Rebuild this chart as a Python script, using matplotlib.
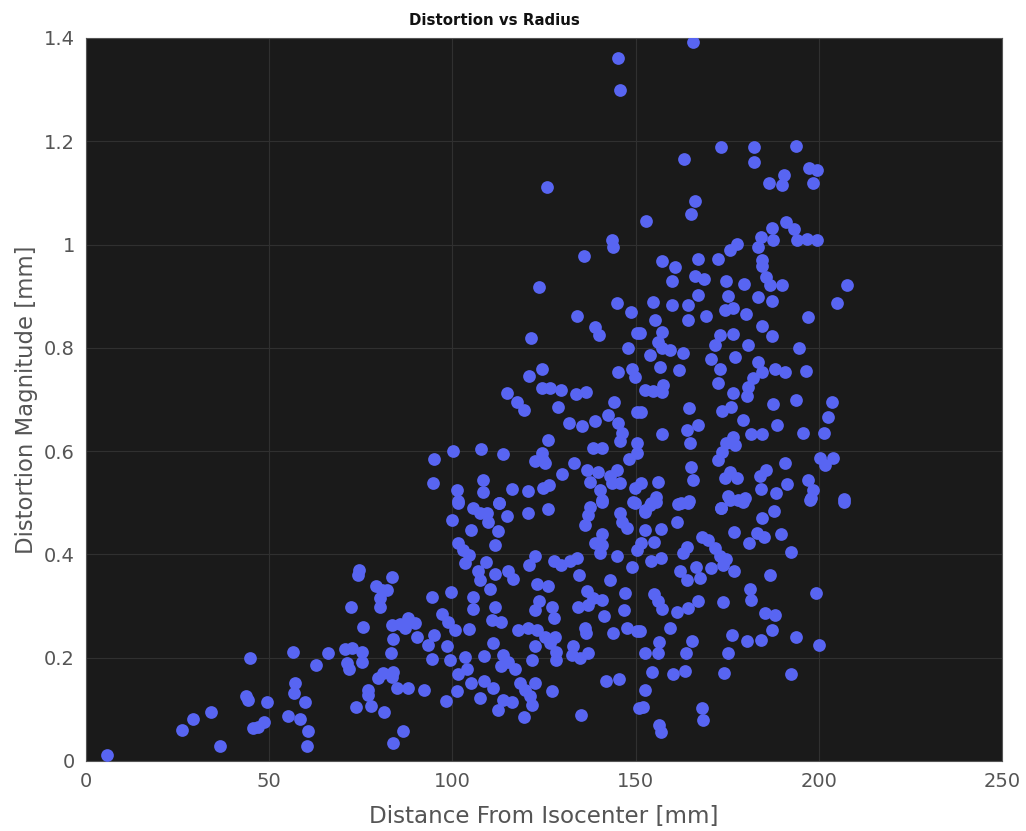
"""
Distortion magnitude against distance from isocenter, read off the reference scatter.
"""

import matplotlib
matplotlib.use("Agg")
import matplotlib.pyplot as plt

# values grouped roughly by region of the plot: (distance mm, distortion mm)
low_radius = [
    (5.6,.011),(26.1,.06),(29.3,.081),(34.1,.094),(36.6,.029),(44.8,.199),(43.6,.125),(44.2,.118),
    (49.3,.114),(45.6,.064),(47,.066),(48.6,.076),(56.6,.212),(57,.151),(56.8,.132),(59.8,.114),
    (55,.087),(58.4,.082),(60.6,.058),(60.2,.029),(62.7,.185),(66,.209),(70.7,.217),(72.5,.219),
    (75.2,.212),(71.1,.19),(71.8,.178),(75.3,.192),(74.2,.36),(74.5,.37),(72.3,.299),(75.6,.259),
    (73.6,.104),(77.8,.107),(76.9,.137),(77,.128),(81.3,.094),(86.5,.058),(83.8,.035),(79.6,.161),
    (81.1,.171),(83.8,.173),(83.4,.163),(84.8,.142),(87.9,.142),(83.2,.209),(83.8,.236),(83.4,.263),
    (85.7,.265),(87.9,.277),(87,.258),(89.8,.267),(90.3,.24),(83.4,.356),(79.1,.338),(80.7,.331),
    (82.1,.331),(80.2,.316),(80.2,.299),
]
mid_lower = [
    (101.4,.5),(100,.467),(105.7,.489),(107.5,.48),(109.5,.48),(109.8,.463),(105,.447),(112.8,.499),
    (114.8,.475),(112.5,.446),(111.5,.418),(120.5,.481),(126,.487),(137.6,.491),(137.1,.476),(136.2,.457),
    (140.8,.502),(145.8,.48),(146.2,.463),(147.6,.451),(149.9,.499),(140.9,.44),(138.9,.422),(140.8,.418),
    (140.3,.402),(150.3,.409),(145,.396),(148.9,.375),(101.4,.422),(103,.409),(104.4,.399),(103.4,.384),
    (109.2,.385),(107.1,.367),(107.5,.351),(111.6,.362),(110.3,.334),(115.3,.367),(116.6,.352),(122.6,.397),
    (120.9,.38),(127.6,.388),(129.7,.38),(132.1,.388),(133.9,.393),(134.6,.36),(123,.343),(126.2,.339),
    (143,.351),(136.7,.33),(138.5,.315),(140.8,.312),(134.4,.299),(137.1,.302),(147.1,.325),(146.9,.293),
    (141.4,.28),(94.3,.318),(99.5,.327),(105.5,.318),(105.5,.294),(111.5,.299),(123.5,.309),(122.6,.293),
    (127.1,.299),(127.6,.276),(110.7,.273),(113.3,.27),(97.1,.285),(98.9,.27),(100.7,.254),(104.4,.255),
    (118,.254),(120.7,.257),(123,.253),(125.3,.241),(128,.241),(122.6,.223),(126.7,.228),(95,.244),
    (93.4,.225),(98.4,.223),(111.2,.228),(136.2,.257),(136.4,.247),(143.9,.247),(147.6,.257),(150.5,.251),
    (133,.222),(132.6,.205),(134.8,.199),(137.1,.209),(128.2,.212),(128.3,.196),(94.5,.198),(99.4,.195),
    (103.4,.201),(108.5,.204),(113.9,.205),(113.4,.183),(117.1,.178),(115.3,.191),(121.8,.195),(103.9,.178),
    (101.6,.169),(105.1,.152),(108.5,.154),(111,.141),(118.5,.151),(122.6,.152),(119.8,.138),(121.2,.125),
    (121.8,.109),(127.1,.136),(141.9,.154),(145.5,.158),(92.2,.138),(101.2,.136),(107.5,.122),(98.3,.116),
    (113.9,.118),(116.2,.115),(112.5,.099),(119.6,.086),(135.1,.089),(150.8,.102),
]
high_lower = [
    (152.5,.483),(153.9,.496),(155.7,.502),(161.6,.498),(164.4,.499),(173.3,.489),(179.4,.502),(175.7,.505),
    (184.6,.47),(187.8,.484),(197.6,.505),(206.9,.502),(161.4,.462),(152.5,.447),(156.8,.449),(176.9,.444),
    (155.1,.425),(151.6,.422),(163.9,.415),(163,.402),(168,.434),(169.8,.427),(171.6,.412),(173,.396),
    (174.6,.391),(183,.441),(185,.433),(180.9,.422),(189.8,.439),(192.4,.404),(154.3,.388),(156.8,.394),
    (162.1,.368),(166.4,.375),(163.9,.351),(167.5,.354),(170.7,.374),(173.9,.38),(176.8,.368),(186.7,.36),
    (181.2,.334),(181.6,.311),(199.1,.326),(155.1,.323),(156.2,.309),(157.3,.295),(161.2,.288),(164.4,.296),
    (167.1,.309),(173.9,.307),(185.3,.286),(188,.283),(187.1,.254),(151.2,.251),(159.5,.257),(176.4,.244),
    (180.3,.233),(184.1,.235),(193.9,.24),(200,.224),(156.3,.231),(156.2,.209),(152.7,.21),(165.3,.233),
    (163.7,.209),(175.1,.209),(154.5,.173),(160.1,.168),(163.6,.175),(174.2,.171),(192.4,.168),(152.7,.138),
    (152,.104),(168,.102),(168.5,.08),(156.4,.07),(156.8,.057),
]
mid_upper = [
    (123.7,.917),(144.9,.886),(148.7,.87),(133.9,.862),(138.9,.841),(140.1,.825),(121.4,.82),(150.5,.828),
    (148,.799),(124.4,.759),(121,.746),(145.3,.754),(148.9,.76),(149.9,.743),(114.8,.712),(117.7,.696),
    (119.5,.679),(124.4,.723),(126.7,.722),(129.6,.719),(133.7,.711),(136.4,.715),(128.9,.685),(144.2,.696),
    (150.5,.675),(131.8,.655),(135.3,.648),(138.8,.658),(142.6,.67),(145.3,.654),(146.2,.635),(145.8,.619),
    (126,.622),(124.4,.596),(122.6,.581),(125.3,.578),(124.6,.583),(138.3,.607),(140.9,.606),(150.3,.615),
    (150.5,.596),(148.2,.585),(95.1,.585),(100.1,.6),(107.8,.604),(113.7,.594),(133.3,.578),(94.8,.538),
    (130,.556),(136.7,.563),(139.8,.559),(144.9,.564),(137.6,.541),(143,.551),(143.5,.538),(145.8,.538),
    (140.3,.525),(140.8,.506),(108.3,.544),(108.3,.52),(101.2,.524),(101.4,.504),(116.4,.526),(120.5,.522),
    (124.8,.528),(126.4,.535),(112.7,.5),(149.9,.528),(149.4,.502),
]
high_upper = [
    (205,.886),(154.8,.888),(159.8,.883),(167.1,.902),(164.4,.883),(175.3,.901),(174.4,.873),(176.6,.877),
    (183.3,.899),(187.1,.891),(180,.865),(197.1,.859),(155.3,.854),(164.2,.853),(169.1,.862),(157.1,.831),
    (151.2,.828),(184.4,.843),(187.1,.823),(173,.825),(176.6,.827),(171.6,.806),(156.2,.812),(157.1,.799),
    (159.4,.795),(163,.791),(180.7,.806),(194.6,.799),(177.1,.783),(170.7,.778),(153.9,.786),(173,.76),
    (183.5,.773),(184.4,.754),(156.6,.762),(161.9,.757),(188,.759),(190.9,.754),(196.4,.755),(182.1,.741),
    (180.7,.725),(180.3,.706),(172.5,.731),(157.5,.728),(152.5,.719),(154.8,.717),(157.1,.715),(176.5,.713),
    (193.7,.699),(187.4,.691),(203.5,.695),(202.6,.666),(201.4,.636),(164.5,.683),(173.5,.677),(176,.685),
    (151.6,.675),(179.2,.66),(188.5,.651),(167.1,.651),(163.9,.641),(195.6,.636),(157.3,.633),(181.6,.633),
    (184.6,.633),(164.8,.615),(176.6,.628),(177.1,.612),(174.8,.615),(173.5,.599),(172.5,.583),(200.3,.586),
    (201.7,.573),(203.9,.586),(190.7,.578),(165.1,.569),(165.7,.544),(185.7,.564),(183.9,.551),(175.7,.56),
    (177.6,.548),(174.4,.548),(156.2,.541),(151.6,.538),(191.2,.537),(197.1,.544),(198.5,.525),(197.8,.509),
    (184.1,.527),(188.2,.519),(206.9,.507),(175.3,.513),(179.8,.509),(178,.506),(155.7,.512),(154.3,.5),
    (152.5,.486),(162.5,.5),(164.5,.504),(173.3,.49),
]
top_points = [
    (165.6,1.392),(145.3,1.362),(145.8,1.3),(173.3,1.188),(182.3,1.188),(182.4,1.159),(193.7,1.19),(163.2,1.165),
    (125.7,1.112),(186.3,1.119),(190.4,1.134),(189.9,1.116),(197.4,1.149),(199.6,1.145),(198.5,1.119),(166.1,1.085),
    (165.1,1.059),(152.8,1.046),(191.1,1.043),(193.1,1.03),(187.2,1.032),(184.3,1.014),(187.6,1.008),(194,1.008),
    (196.7,1.01),(199.6,1.009),(143.5,1.008),(143.9,.995),(183.5,.996),(177.6,1.001),(175.8,.99),(135.8,.977),
    (184.4,.971),(172.6,.972),(166.9,.972),(157.3,.969),(160.8,.956),(184.6,.958),(185.5,.938),(186.7,.922),
    (189.9,.922),(207.6,.922),(166.1,.94),(168.8,.933),(159.9,.93),(174.6,.93),(179.7,.924),
]

x_ticks = [0, 50, 100, 150, 200, 250]
y_ticks = [0, 0.2, 0.4, 0.6, 0.8, 1, 1.2, 1.4]
y_labels = ["0", "0.2", "0.4", "0.6", "0.8", "1", "1.2", "1.4"]

points = low_radius + mid_lower + high_lower + mid_upper + high_upper + top_points
dist = [p[0] for p in points]
mag = [p[1] for p in points]

fig = plt.figure(figsize=(10.26, 8.31), dpi=100)
ax = fig.add_axes([86/1026, 1 - 761/831, 916/1026, 723/831])
ax.set_facecolor("#1a1a1a")
ax.scatter(dist, mag, s=84, color="#5865f2", linewidths=0, zorder=3)

ax.set_xlim(0, 250)
ax.set_ylim(0, 1.4)
ax.set_xticks(x_ticks)
ax.set_yticks(y_ticks)
ax.set_yticklabels(y_labels)
ax.grid(True, color="#303030", linewidth=0.8, zorder=0)
ax.set_axisbelow(True)
ax.tick_params(length=0, labelsize=14, labelcolor="#555555", pad=8)
for s in ax.spines.values():
    s.set_color("#555555")
    s.set_linewidth(0.8)

ax.set_xlabel("Distance From Isocenter [mm]", fontsize=16.6, color="#555555", labelpad=10)
ax.set_ylabel("Distortion Magnitude [mm]", fontsize=16.4, color="#555555", labelpad=4)
ax.set_title("Distortion vs Radius", fontsize=10.8, fontweight="bold", color="#111111", pad=9, x=0.446)

fig.savefig("out.png", dpi=100)
